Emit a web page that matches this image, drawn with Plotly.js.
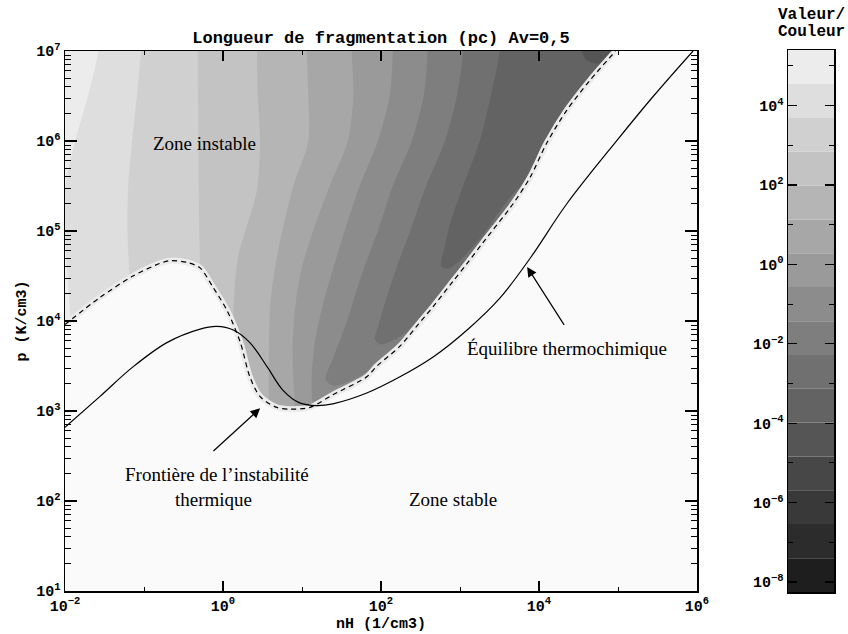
<!DOCTYPE html>
<html><head><meta charset="utf-8">
<script src="https://cdn.plot.ly/plotly-3.0.1.min.js"></script>
<style>html,body{margin:0;padding:0;background:#fff}#chart{width:848px;height:634px}</style>
</head><body><div id="chart"></div>
<script>
// ---- axis ranges (log10 units) ----
const X_RANGE = [-2, 6];   // log10 nH
const Y_RANGE = [1, 7];    // log10 p

// ---- colour bar: level edges (log10 of fragmentation length, pc) ----
const LEVELS = [-8.25,-7.40,-6.54,-5.69,-4.84,-3.98,-3.13,-2.28,-1.43,-0.57,0.28,1.13,1.99,2.84,3.69,4.55,5.40];
const BAND_GRAYS = ['#1e1e1e','#2c2c2c','#393939','#474747','#555555','#636363','#707070','#7e7e7e',
                    '#8c8c8c','#9a9a9a','#a7a7a7','#b5b5b5','#c3c3c3','#d0d0d0','#dedede','#ececec'];
const CB_TICKS = [-8,-6,-4,-2,0,2,4];
const CB_MINOR = [-7,-5,-3,-1,1,3,5];

// ---- thermal instability boundary (dashed) ----
const boundary_lognH = [-2.0,-1.56,-1.14,-0.8,-0.67,-0.45,-0.29,-0.13,0.05,0.22,0.34,0.47,0.68,0.85,1.1,1.39,1.82,1.95,2.24,2.45,2.66,2.91,3.09,3.29,3.67,3.89,4.1,4.35,4.65,4.97];
const boundary_logP  = [3.96,4.26,4.5,4.64,4.67,4.65,4.59,4.38,4.12,3.76,3.38,3.16,3.04,3.02,3.04,3.18,3.38,3.5,3.72,3.94,4.16,4.44,4.64,4.87,5.3,5.6,5.98,6.34,6.68,7.0];

// ---- thermochemical equilibrium (solid) ----
const equil_lognH = [-2,-1.56,-1.14,-0.71,-0.29,-0.08,0.13,0.34,0.56,0.76,0.97,1.19,1.39,1.82,2.24,2.66,3.09,3.51,3.89,4.35,4.99,5.45,5.95];
const equil_logP  = [2.82,3.16,3.49,3.76,3.91,3.94,3.9,3.76,3.49,3.23,3.09,3.06,3.08,3.2,3.38,3.6,3.9,4.26,4.7,5.3,6.01,6.5,7.0];

// ---- iso-contours of log10(length) at LEVELS[k] ----
const iso5_lognH  = [4.54,4.6,4.75,4.9,4.95];
const iso5_logP   = [7,6.9,6.86,6.93,7.0];
const iso6_lognH  = [3.5,3.39,3.25,3.04,2.88,2.8,2.76,2.85,3.05,3.3,3.55,3.75,3.85];
const iso6_logP   = [7,6.5,6.0,5.5,5.1,4.8,4.62,4.58,4.72,4.97,5.28,5.48,5.5];
const iso7_lognH  = [3.04,2.96,2.81,2.57,2.37,2.2,2.05,1.95,1.92,2.0,2.3,2.55,2.75,2.9];
const iso7_logP   = [7,6.5,6.0,5.5,5.0,4.6,4.2,3.9,3.8,3.74,3.86,4.1,4.3,4.35];
const iso8_lognH  = [2.59,2.54,2.39,2.15,1.96,1.75,1.57,1.4,1.3,1.4,1.6,1.85,2.05,2.1];
const iso8_logP   = [7,6.5,6.0,5.5,5.0,4.5,4.0,3.6,3.35,3.28,3.33,3.45,3.62,3.58];
const iso9_lognH  = [2.15,2.11,1.96,1.73,1.54,1.4,1.27,1.16,1.12,1.14];
const iso9_logP   = [7,6.5,6.0,5.5,5.0,4.6,4.2,3.75,3.3,2.95];
const iso10_lognH = [1.63,1.65,1.58,1.35,1.14,1.0,0.92,0.88,0.9,0.92];
const iso10_logP  = [7,6.5,6.0,5.5,5.0,4.6,4.2,3.7,3.2,2.9];
const iso11_lognH = [1.06,1.08,1.08,0.89,0.75,0.66,0.6,0.58,0.58];
const iso11_logP  = [7,6.5,6.0,5.5,5.0,4.6,4.2,3.6,3.0];
const iso12_lognH = [0.43,0.44,0.47,0.43,0.30,0.20,0.15,0.13,0.13];
const iso12_logP  = [7,6.5,6.0,5.45,5.05,4.75,4.4,4.0,3.6];
const iso13_lognH = [-0.32,-0.31,-0.3,-0.29,-0.29,-0.29];
const iso13_logP  = [7,6.0,5.0,4.6,4.3,4.0];
const iso14_lognH = [-1.04,-1.09,-1.15,-1.2,-1.21,-1.19,-1.18,-1.18];
const iso14_logP  = [7,6.5,6.0,5.5,5.0,4.6,4.3,4.0];
const iso15_lognH = [-1.58,-1.71,-1.87,-2.0];
const iso15_logP  = [7,6.5,6.0,5.45];

const ISO = {5:[iso5_lognH,iso5_logP],6:[iso6_lognH,iso6_logP],7:[iso7_lognH,iso7_logP],8:[iso8_lognH,iso8_logP],
  9:[iso9_lognH,iso9_logP],10:[iso10_lognH,iso10_logP],11:[iso11_lognH,iso11_logP],12:[iso12_lognH,iso12_logP],
  13:[iso13_lognH,iso13_logP],14:[iso14_lognH,iso14_logP],15:[iso15_lognH,iso15_logP]};
const LOWEST_BAND = 4;

// ---- tick labels ----
const X_TICKS = [-2,0,2,4,6];
const X_MINOR = [-1,1,3,5];
const Y_TICKS = [1,2,3,4,5,6,7];

const pw = e => Math.pow(10, e);
const sup = e => '10<sup>' + (e < 0 ? '\u2212' + (-e) : e) + '</sup>';
const MONO = 'Liberation Mono, DejaVu Sans Mono, monospace';
const SERIF = 'Liberation Serif, Times New Roman, serif';

// off-plot margins used to close the band outlines outside the visible frame
const OUT_LO_X = X_RANGE[0]-2, OUT_HI_X = X_RANGE[1]+2, OUT_LO_Y = Y_RANGE[0]-2, OUT_HI_Y = Y_RANGE[1]+0.8;

function regionAbove(lx, ly) {
  const n = ly.length, minLy = Math.min(...ly);
  const xs = [OUT_LO_X, lx[0], ...lx], ys = [OUT_HI_Y, OUT_HI_Y, ...ly];
  const xe = lx[n-1], ye = ly[n-1];
  if (ye >= Y_RANGE[1] - 1e-9 && n > 1) {            // pocket closing on the top edge
    xs.push(xe, OUT_HI_X, OUT_HI_X, OUT_LO_X); ys.push(OUT_HI_Y, OUT_HI_Y, OUT_LO_Y, OUT_LO_Y);
  } else if (ye > minLy + 1e-9) {                     // hairpin: close round the right side
    xs.push(xe+0.3, OUT_HI_X, OUT_HI_X, OUT_LO_X); ys.push(ye-0.3, ye-0.3, OUT_LO_Y, OUT_LO_Y);
  } else {                                            // line running down to the bottom
    xs.push(xe, OUT_LO_X); ys.push(OUT_LO_Y, OUT_LO_Y);
  }
  return {x: xs.map(pw), y: ys.map(pw)};
}

const traces = [];
traces.push({type:'scatter', mode:'lines', x:[OUT_LO_X,OUT_HI_X,OUT_HI_X,OUT_LO_X].map(pw),
  y:[OUT_HI_Y,OUT_HI_Y,OUT_LO_Y,OUT_LO_Y].map(pw), fill:'toself', fillcolor:BAND_GRAYS[LOWEST_BAND],
  line:{width:0}, hoverinfo:'skip', showlegend:false});
for (let k = LOWEST_BAND+1; k <= 15; k++) {
  const p = regionAbove(ISO[k][0], ISO[k][1]);
  traces.push({type:'scatter', mode:'lines', x:p.x, y:p.y, fill:'toself', fillcolor:BAND_GRAYS[k],
    line:{width:0, shape:'spline', smoothing:0.8}, hoverinfo:'skip', showlegend:false});
}
// stable zone
traces.push({type:'scatter', mode:'lines',
  x:[...boundary_lognH, OUT_HI_X, OUT_HI_X, OUT_LO_X, OUT_LO_X].map(pw),
  y:[...boundary_logP, Y_RANGE[1], OUT_LO_Y, OUT_LO_Y, boundary_logP[0]].map(pw),
  fill:'toself', fillcolor:'#fafafa', line:{width:0}, hoverinfo:'skip', showlegend:false});
// halo + dashed boundary
traces.push({type:'scatter', mode:'lines', x:boundary_lognH.map(pw), y:boundary_logP.map(pw),
  line:{color:'#ececec', width:6, shape:'spline', smoothing:0.8}, hoverinfo:'skip', showlegend:false});
traces.push({type:'scatter', mode:'lines', x:boundary_lognH.map(pw), y:boundary_logP.map(pw),
  line:{color:'#000', width:1.2, dash:'5px,4px', shape:'spline', smoothing:0.8}, showlegend:false});
// equilibrium
traces.push({type:'scatter', mode:'lines', x:equil_lognH.map(pw), y:equil_logP.map(pw),
  line:{color:'#000', width:1.2, shape:'spline', smoothing:1}, showlegend:false});
// colour bar
traces.push({type:'bar', x:LEVELS.slice(0,16).map(()=>0), base:LEVELS.slice(0,16),
  y:LEVELS.slice(1).map((v,i)=>v-LEVELS[i]), width:1, marker:{color:BAND_GRAYS, line:{width:0}},
  xaxis:'x2', yaxis:'y2', hoverinfo:'skip', showlegend:false});

const W = 848, H = 634;
const tickFont = {family:MONO, size:15, color:'#000', weight:'bold'};
const layout = {
  width:W, height:H, margin:{l:0,r:0,t:0,b:0}, paper_bgcolor:'#fff', plot_bgcolor:'#fafafa', showlegend:false,
  title:{text:'Longueur de fragmentation (pc) Av=0,5', x:381/W, xanchor:'center', y:1-37/H, yanchor:'middle',
    font:{family:MONO, size:17, color:'#000', weight:'bold'}},
  xaxis:{type:'log', range:X_RANGE, domain:[65/W, 697/W], anchor:'y', showgrid:false, zeroline:false,
    showline:true, linecolor:'#000', linewidth:1.5, mirror:'ticks', ticks:'inside', ticklen:10, tickwidth:1.2, tickcolor:'#000',
    tickmode:'array', tickvals:X_TICKS.map(pw), ticktext:X_TICKS.map(sup), tickfont:tickFont,
    minor:{tickmode:'array', tickvals:X_MINOR.map(pw), ticks:'inside', ticklen:4, tickwidth:1, tickcolor:'#000', showgrid:false},
    title:{text:'nH (1/cm3)', font:{family:MONO, size:15, color:'#000', weight:'bold'}, standoff:2}},
  yaxis:{type:'log', range:Y_RANGE, domain:[(H-591)/H, (H-51)/H], anchor:'x', showgrid:false, zeroline:false,
    showline:true, linecolor:'#000', linewidth:1.5, mirror:'ticks', ticks:'inside', ticklen:12, tickwidth:1.2, tickcolor:'#000',
    tickmode:'array', tickvals:Y_TICKS.map(pw), ticktext:Y_TICKS.map(sup), tickfont:tickFont,
    minor:{tickmode:'array', tickvals:Y_TICKS.slice(0,-1).flatMap(e=>[2,3,4,5,6,7,8,9].map(m=>m*pw(e))),
      ticks:'inside', ticklen:6, tickwidth:1, tickcolor:'#000', showgrid:false},
    title:{text:'p (K/cm3)', font:{family:MONO, size:15, color:'#000', weight:'bold'}, standoff:6}},
  xaxis2:{domain:[788/W, 834/W], range:[-0.5,0.5], anchor:'y2', showgrid:false, zeroline:false, showticklabels:false,
    ticks:'', showline:true, linecolor:'#000', linewidth:1.5, mirror:true, fixedrange:true},
  yaxis2:{domain:[(H-592)/H, (H-50)/H], range:[LEVELS[0], LEVELS[16]], anchor:'x2', showgrid:false, zeroline:false,
    showline:true, linecolor:'#000', linewidth:1.5, mirror:'ticks', ticks:'inside', ticklen:9, tickwidth:1.2, tickcolor:'#000',
    tickmode:'array', tickvals:CB_TICKS, ticktext:CB_TICKS.map(sup), tickfont:tickFont,
    minor:{tickmode:'array', tickvals:CB_MINOR, ticks:'inside', ticklen:5, tickwidth:1, tickcolor:'#000', showgrid:false}},
  annotations:[
    {text:'Zone instable', xref:'x', yref:'y', x:-0.24, y:5.97, showarrow:false, font:{family:SERIF, size:19, color:'#000'}},
    {text:'Fronti\u00e8re de l\u2019instabilit\u00e9', xref:'x', yref:'y', x:-0.08, y:2.29, showarrow:false,
      font:{family:SERIF, size:19, color:'#000'}},
    {text:'thermique', xref:'x', yref:'y', x:-0.12, y:2.02, showarrow:false, font:{family:SERIF, size:19, color:'#000'}},
    {text:'Zone stable', xref:'x', yref:'y', x:2.91, y:2.02, showarrow:false, font:{family:SERIF, size:19, color:'#000'}},
    {text:'\u00c9quilibre thermochimique', xref:'x', yref:'y', x:4.35, y:3.69, showarrow:false, font:{family:SERIF, size:19, color:'#000'}},
    {text:'', xref:'x', yref:'y', axref:'x', ayref:'y', x:0.47, y:3.03, ax:-0.14, ay:2.54, showarrow:true,
      arrowhead:2, arrowsize:1.6, arrowwidth:1.2, arrowcolor:'#000'},
    {text:'', xref:'x', yref:'y', axref:'x', ayref:'y', x:3.85, y:4.6, ax:4.33, ay:3.94, showarrow:true,
      arrowhead:2, arrowsize:1.6, arrowwidth:1.2, arrowcolor:'#000'},
    {text:'Valeur/', xref:'paper', yref:'paper', x:811/W, y:1-15/H, xanchor:'center', yanchor:'middle',
      showarrow:false, font:{family:MONO, size:16, color:'#000', weight:'bold'}},
    {text:'Couleur', xref:'paper', yref:'paper', x:811/W, y:1-32/H, xanchor:'center', yanchor:'middle',
      showarrow:false, font:{family:MONO, size:16, color:'#000', weight:'bold'}}
  ]
};
Plotly.newPlot('chart', traces, layout, {staticPlot:true, displayModeBar:false});
</script></body></html>
